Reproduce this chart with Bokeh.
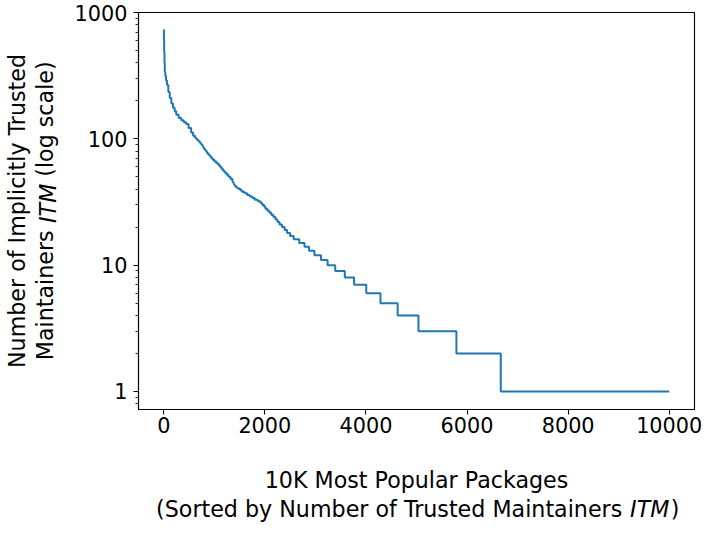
import math
from bokeh.plotting import figure
from bokeh.models import Range1d, FixedTicker, LinearAxis, LogAxis
from bokeh.embed import file_html
from bokeh.resources import INLINE

# rank of package (sorted) where the number of trusted maintainers changes
rank = [0, 3, 8, 14, 20, 30, 45, 65, 90, 118,
        150, 182, 215, 247, 295, 345, 395, 443, 490, 541,
        580, 620, 640, 660, 685, 706, 725, 745, 762, 778,
        790, 810, 830, 850, 869, 895, 920, 945, 975, 1005,
        1040, 1080, 1110, 1140, 1170, 1205, 1245, 1280, 1320, 1359,
        1370, 1382, 1395, 1415, 1440, 1480, 1520, 1555, 1600, 1650,
        1700, 1751, 1800, 1860, 1914, 1950, 1985, 2012, 2050, 2090,
        2130, 2170, 2210, 2250, 2290, 2340, 2390, 2440, 2500, 2569,
        2680, 2784, 2875, 2980, 3110, 3241, 3392, 3582, 3765, 4006,
        4287, 4627, 5039, 5790, 6667, 9999]
# number of implicitly trusted maintainers (ITM) from that rank on
itm = [730, 600, 490, 400, 340, 315, 290, 267, 235, 210,
       190, 176, 165, 155, 146, 140, 135, 131, 122, 112,
       106, 102, 100, 98, 96, 94, 92, 90, 88, 86,
       84, 82, 80, 78, 76, 74, 72, 70, 68, 66,
       64, 62, 60, 58, 56, 54, 52, 50, 48, 46,
       45, 44, 43, 42, 41, 40, 39, 38, 37, 36,
       35, 34, 33, 32, 31, 30, 29, 28, 27, 26,
       25, 24, 23, 22, 21, 20, 19, 18, 17, 16,
       15, 14, 13, 12, 11, 10, 9, 8, 7, 6,
       5, 4, 3, 2, 1, 1]

x_ticks = [0, 2000, 4000, 6000, 8000, 10000]
y_ticks = [1, 10, 100, 1000]
y_tick_labels = ["1", "10", "100", "1000"]
y_minor = [0.8, 0.9] + [m * d for d in (1, 10, 100) for m in range(2, 10)]

FONT = "DejaVu Sans"
TICK_SIZE = "20.8px"
LABEL_SIZE = "22.2px"

W, H = 704, 524
FL, FR, FT, FB = 135, 694, 12, 410      # frame edges on the canvas
X0, X1 = -500, 10500
Y0, Y1 = 0.72, 1000


def x_at(px):
    return round(X0 + (px - FL) / (FR - FL) * (X1 - X0))


def y_at(py):
    lo, hi = math.log10(Y0), math.log10(Y1)
    return round(10 ** (lo + (FB - py) / (FB - FT) * (hi - lo)), 4)


p = figure(width=W, height=H, y_axis_type="log",
           x_range=Range1d(X0, X1), y_range=Range1d(Y0, Y1),
           output_backend="svg", toolbar_location=None,
           min_border_left=FL, min_border_right=W - FR,
           min_border_top=FT, min_border_bottom=H - FB)

p.step(rank, itm, mode="after", line_color="#1f77b4", line_width=2)

p.grid.visible = False
p.outline_line_color = "black"
p.outline_line_width = 1.1
p.background_fill_color = "white"
p.border_fill_color = "white"

p.xaxis.ticker = FixedTicker(ticks=x_ticks)
p.yaxis.ticker = FixedTicker(ticks=y_ticks, minor_ticks=y_minor)
p.yaxis.major_label_overrides = dict(zip(y_ticks, y_tick_labels))
p.xaxis.minor_tick_line_color = None
for ax in (p.xaxis, p.yaxis):
    ax.axis_line_color = "black"
    ax.axis_line_width = 1.1
    ax.major_tick_line_color = "black"
    ax.major_tick_line_width = 1.1
    ax.major_tick_out = 5
    ax.major_tick_in = 0
    ax.minor_tick_out = 3
    ax.minor_tick_in = 0
    ax.major_label_text_font = FONT
    ax.major_label_text_font_size = TICK_SIZE
    ax.major_label_text_color = "black"
p.yaxis.minor_tick_line_color = "black"
p.yaxis.minor_tick_line_width = 0.8
p.xaxis.major_label_standoff = 2
p.yaxis.major_label_standoff = 6

p.xaxis.axis_label = "10K Most Popular Packages"
p.xaxis.axis_label_text_font = FONT
p.xaxis.axis_label_text_font_size = LABEL_SIZE
p.xaxis.axis_label_text_font_style = "normal"
p.xaxis.axis_label_text_color = "black"
p.xaxis.axis_label_standoff = 31


def text_axis(cls, side, pos, texts, style="normal", standoff=0, angle="horizontal"):
    ax = cls(ticker=FixedTicker(ticks=pos, minor_ticks=[]),
             major_label_overrides=dict(zip(pos, texts)),
             axis_line_color=None, major_tick_line_color=None,
             minor_tick_line_color=None, major_tick_out=0, major_tick_in=0,
             minor_tick_out=0, major_label_standoff=standoff,
             major_label_orientation=angle,
             major_label_text_font=FONT, major_label_text_font_size=LABEL_SIZE,
             major_label_text_font_style=style, major_label_text_color="black")
    p.add_layout(ax, side)
    return ax


# second line of the x title, "ITM" in italics
cx = (FL + FR) / 2
text_axis(LinearAxis, "below", [x_at(cx - 27.5), x_at(cx + 260)],
          ["(Sorted by Number of Trusted Maintainers", ")"], standoff=0)
text_axis(LinearAxis, "below", [x_at(cx + 234.5)], ["ITM"], style="italic", standoff=-29)

# y title: two lines, "ITM" in italics
cy = (FT + FB) / 2
text_axis(LogAxis, "left", [y_at(cy - 7.7)], ["ITM"], style="italic",
          standoff=10, angle="vertical")
ya = text_axis(LogAxis, "left", [y_at(cy + 84.5), y_at(cy - 92.2)],
               ["Maintainers", "(log scale)"], standoff=-26, angle="vertical")
ya.axis_label = "Number of Implicitly Trusted"
ya.axis_label_text_font = FONT
ya.axis_label_text_font_size = LABEL_SIZE
ya.axis_label_text_font_style = "normal"
ya.axis_label_text_color = "black"
ya.axis_label_standoff = 0

open("out.html", "w").write(file_html(p, INLINE))
